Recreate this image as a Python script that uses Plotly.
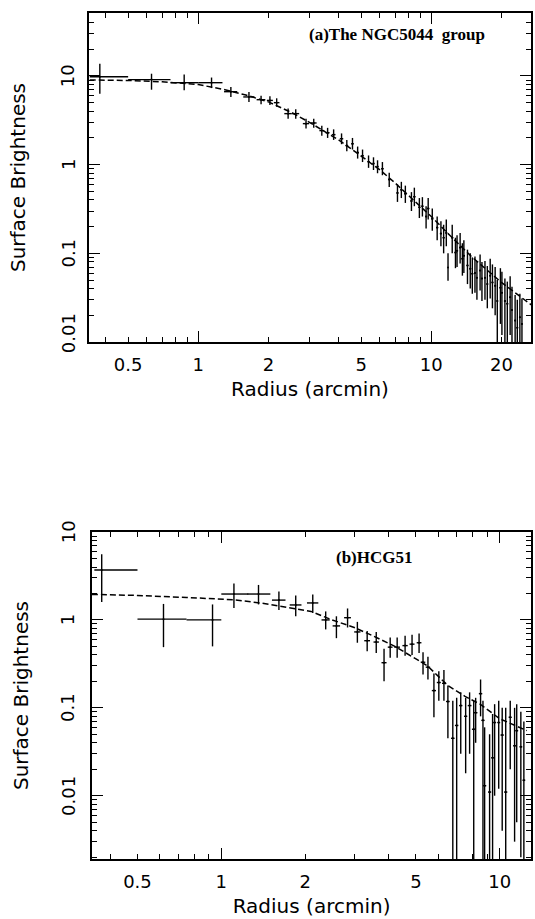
import math
import plotly.graph_objects as go

# ---------------- (a) The NGC5044 group ----------------
r_a = [0.378, 0.63, 0.87, 1.14, 1.38, 1.65, 1.86, 2.03, 2.17, 2.43,
       2.62, 2.90, 3.13, 3.39, 3.59, 3.81, 4.12, 4.34, 4.59, 4.83,
       5.07, 5.38, 5.65, 5.88, 6.17, 6.60, 7.16, 7.44, 7.74, 8.22,
       8.46, 8.89, 9.16, 9.50, 9.70, 10.1, 10.6,
       11.0, 11.3, 11.6, 11.8, 12.3, 12.7, 12.9, 13.3, 13.6, 13.8,
       14.3, 14.7, 15.0, 15.4, 15.7, 16.2, 16.5, 17.0, 17.4, 17.9,
       18.3, 18.8, 19.2, 19.8, 20.1, 20.7, 21.2, 21.8, 22.2, 22.9,
       23.4, 24.0, 24.5]
sb_a = [9.8, 9.1, 8.4, 8.4, 6.65, 5.8, 5.4, 5.3, 5.0, 3.76,
        3.76, 2.9, 2.95, 2.42, 2.29, 2.18, 1.96, 1.64, 1.72, 1.37,
        1.26, 1.08, 1.03, 0.95, 0.90, 0.68, 0.48, 0.52, 0.47, 0.39,
        0.435, 0.33, 0.34, 0.26, 0.32, 0.245, 0.195,
        0.167, 0.15, 0.17, 0.069, 0.15, 0.102, 0.107, 0.116, 0.087, 0.094,
        0.073, 0.067, 0.059, 0.06, 0.053, 0.064, 0.052, 0.053, 0.045, 0.056,
        0.047, 0.043, 0.029, 0.041, 0.036, 0.029, 0.027, 0.032, 0.023, 0.0175,
        0.0145, 0.019, 0.016]
sb_hi_a = [13.7, 10.6, 10.4, 9.6, 7.5, 6.6, 6.0, 5.9, 5.6, 4.3,
           4.2, 3.3, 3.3, 2.75, 2.6, 2.5, 2.25, 1.9, 2.0, 1.6,
           1.48, 1.27, 1.21, 1.12, 1.07, 0.81, 0.6, 0.64, 0.58, 0.49,
           0.55, 0.42, 0.43, 0.34, 0.42, 0.32, 0.26,
           0.23, 0.21, 0.24, 0.10, 0.21, 0.15, 0.16, 0.17, 0.13, 0.14,
           0.11, 0.10, 0.09, 0.092, 0.082, 0.097, 0.08, 0.082, 0.072, 0.087,
           0.075, 0.07, 0.05, 0.068, 0.062, 0.052, 0.048, 0.055, 0.042, 0.034,
           0.03, 0.035, 0.031]
sb_lo_a = [6.3, 7.0, 6.9, 7.3, 5.8, 5.1, 4.8, 4.7, 4.5, 3.3,
           3.3, 2.55, 2.6, 2.12, 2.0, 1.9, 1.7, 1.42, 1.48, 1.17,
           1.07, 0.92, 0.87, 0.8, 0.76, 0.56, 0.38, 0.42, 0.37, 0.3,
           0.34, 0.25, 0.26, 0.19, 0.24, 0.18, 0.14,
           0.12, 0.10, 0.12, 0.049, 0.10, 0.068, 0.07, 0.077, 0.056, 0.06,
           0.045, 0.04, 0.035, 0.036, 0.03, 0.038, 0.029, 0.03, 0.024, 0.031,
           0.024, 0.02, 0.0001, 0.016, 0.012, 0.0001, 0.008, 0.012, 0.0001, 0.0001,
           0.0001, 0.004, 0.0001]
rerr_lo_a = [0.036, 0.13, 0.11, 0.14, 0.09, 0.09, 0.08, 0.06, 0.06, 0.09,
             0.09, 0.09, 0.09, 0.08, 0.07, 0.07, 0.07, 0.06, 0.06, 0.06,
             0.06, 0.06, 0.06, 0.06, 0.08, 0.08, 0.08, 0.08, 0.1, 0.1,
             0.1, 0.1, 0.1, 0.1, 0.12, 0.12, 0.12,
             0.12, 0.12, 0.12, 0.0, 0.14, 0.14, 0.14, 0.14, 0.14, 0.14,
             0.15, 0.15, 0.15, 0.15, 0.15, 0.16, 0.16, 0.16, 0.16, 0.16,
             0.18, 0.18, 0.18, 0.18, 0.18, 0.2, 0.2, 0.2, 0.2, 0.2,
             0.2, 0.2, 0.2]
rerr_hi_a = [0.122, 0.13, 0.13, 0.13] + rerr_lo_a[4:]
model_r_a = [0.342, 0.5, 0.7, 1.0, 1.3, 1.6, 2.0, 2.5, 3.0, 3.5,
             4.0, 5.0, 6.0, 7.0, 8.0, 10.0, 12.0, 15.0, 20.0, 27.0]
model_sb_a = [9.0, 8.9, 8.6, 8.0, 7.0, 6.1, 5.1, 3.9, 3.0, 2.35,
              1.9, 1.25, 0.88, 0.62, 0.45, 0.26, 0.16, 0.09, 0.047, 0.026]

# ---------------- (b) HCG51 ----------------
r_b = [0.372, 0.62, 0.93, 1.11, 1.36, 1.61, 1.85, 2.13, 2.37, 2.59,
       2.84, 3.08, 3.34, 3.60, 3.84, 4.04, 4.28, 4.57, 4.84, 5.13,
       5.30, 5.52, 5.80, 6.04, 6.30, 6.51, 6.78, 7.00, 7.24, 7.54,
       7.79, 8.06, 8.19, 8.53, 8.70, 8.82, 9.19, 9.42, 9.58, 9.91,
       10.2, 10.5, 10.9, 11.3, 11.5, 11.9, 12.2]
sb_b = [3.7, 1.02, 1.0, 1.97, 1.97, 1.68, 1.48, 1.56, 1.0, 0.855,
        1.06, 0.73, 0.58, 0.56, 0.326, 0.49, 0.49, 0.51, 0.53, 0.55,
        0.33, 0.29, 0.157, 0.194, 0.19, 0.118, 0.045, 0.063, 0.106, 0.08,
        0.106, 0.057, 0.088, 0.145, 0.072, 0.013, 0.011, 0.027, 0.068, 0.068,
        0.049, 0.011, 0.078, 0.037, 0.055, 0.036, 0.015]
sb_hi_b = [5.6, 1.52, 1.5, 2.6, 2.5, 2.1, 1.9, 1.95, 1.25, 1.1,
           1.35, 0.95, 0.75, 0.73, 0.47, 0.63, 0.63, 0.66, 0.68, 0.7,
           0.43, 0.38, 0.245, 0.26, 0.27, 0.18, 0.12, 0.13, 0.15, 0.13,
           0.15, 0.12, 0.13, 0.21, 0.12, 0.06, 0.05, 0.085, 0.11, 0.12,
           0.1, 0.1, 0.12, 0.1, 0.11, 0.09, 0.07]
sb_lo_b = [1.6, 0.49, 0.5, 1.37, 1.5, 1.3, 1.1, 1.2, 0.78, 0.62,
           0.82, 0.55, 0.44, 0.42, 0.2, 0.37, 0.37, 0.39, 0.4, 0.42,
           0.24, 0.21, 0.078, 0.12, 0.12, 0.045, 0.0001, 0.0001, 0.03, 0.018,
           0.03, 0.0001, 0.04, 0.08, 0.0001, 0.0001, 0.0001, 0.0001, 0.01, 0.012,
           0.004, 0.0001, 0.02, 0.003, 0.005, 0.002, 0.0001]
rerr_lo_b = [0.022, 0.12, 0.18, 0.11, 0.12, 0.09, 0.09, 0.1, 0.08, 0.08,
             0.08, 0.08, 0.08, 0.08, 0.08, 0.08, 0.1, 0.1, 0.1, 0.1,
             0.1, 0.1, 0.1, 0.1, 0.1, 0.1, 0.1, 0.1, 0.1, 0.1,
             0.12, 0.12, 0.12, 0.12, 0.12, 0.12, 0.12, 0.12, 0.12, 0.12,
             0.14, 0.14, 0.14, 0.14, 0.14, 0.14, 0.14]
rerr_hi_b = [0.128, 0.13, 0.07, 0.14, 0.14] + rerr_lo_b[5:]
model_r_b = [0.343, 0.5, 0.75, 1.0, 1.1, 1.4, 1.8, 2.1, 2.5, 3.0,
             3.5, 4.2, 5.0, 5.5, 6.5, 7.5, 8.5, 10.0, 12.5]
model_sb_b = [1.95, 1.9, 1.8, 1.75, 1.7, 1.55, 1.35, 1.25, 1.0, 0.82,
              0.66, 0.5, 0.36, 0.3, 0.18, 0.135, 0.11, 0.075, 0.055]

# tick labels
xticks_a = [0.5, 1, 2, 5, 10, 20]
xticks_b = [0.5, 1, 2, 5, 10]
xlong = [1, 10]
xminor_a = [0.4, 0.6, 0.7, 0.8, 0.9, 3, 4, 6, 7, 8, 9, 30]
xminor_b = [0.4, 0.6, 0.7, 0.8, 0.9, 3, 4, 6, 7, 8, 9]
yticks = [0.01, 0.1, 1, 10]
ytick_text = ["0.01", "0.1", "1", "10"]
yminor = [m * d for d in [0.001, 0.01, 0.1, 1, 10] for m in range(2, 10)]

FONT = "DejaVu Sans"
fig = go.Figure()


def add_panel(r, sb, hi, lo, rlo, rhi, mr, msb, xa, ya):
    fig.add_trace(go.Scatter(
        x=mr, y=msb, mode="lines", xaxis=xa, yaxis=ya, showlegend=False,
        line=dict(color="black", width=1.5, dash="6px,3px"), hoverinfo="skip"))
    fig.add_trace(go.Scatter(
        x=r, y=sb, mode="markers", xaxis=xa, yaxis=ya, showlegend=False,
        marker=dict(size=2, color="black"),
        error_y=dict(type="data", symmetric=False,
                     array=[h - s for h, s in zip(hi, sb)],
                     arrayminus=[s - l for s, l in zip(sb, lo)],
                     width=0, thickness=1.4, color="black"),
        error_x=dict(type="data", symmetric=False, array=rhi, arrayminus=rlo,
                     width=0, thickness=1.4, color="black")))


add_panel(r_a, sb_a, sb_hi_a, sb_lo_a, rerr_lo_a, rerr_hi_a,
          model_r_a, model_sb_a, "x", "y")
add_panel(r_b, sb_b, sb_hi_b, sb_lo_b, rerr_lo_b, rerr_hi_b,
          model_r_b, model_sb_b, "x2", "y2")
# empty traces so that the overlay axes (long ticks / minor ticks) are drawn
fig.add_trace(go.Scatter(x=[], y=[], xaxis="x3", yaxis="y", showlegend=False))
fig.add_trace(go.Scatter(x=[], y=[], xaxis="x4", yaxis="y2", showlegend=False))
fig.add_trace(go.Scatter(x=[], y=[], xaxis="x", yaxis="y3", showlegend=False))
fig.add_trace(go.Scatter(x=[], y=[], xaxis="x2", yaxis="y4", showlegend=False))

tickfont = dict(family=FONT, size=18, color="black")
titlefont = dict(family=FONT, size=20, color="black")


def xaxis(domain, anchor, rng, ticks, minor):
    return dict(type="log", domain=domain, anchor=anchor, range=rng,
                tickmode="array", tickvals=ticks, ticktext=[str(t) for t in ticks],
                ticks="inside", ticklen=5, tickwidth=1.3, tickcolor="black",
                showline=True, linecolor="black", linewidth=1.6, mirror="ticks",
                showgrid=False, zeroline=False, tickfont=tickfont,
                ticklabelstandoff=6,
                minor=dict(tickmode="array", tickvals=minor, ticks="inside",
                           ticklen=5, tickwidth=1.3, tickcolor="black", showgrid=False),
                title=dict(text="Radius (arcmin)", font=titlefont, standoff=8))


def xlongaxis(over, anchor, rng):
    return dict(type="log", overlaying=over, anchor=anchor, range=rng, side="bottom",
                tickmode="array", tickvals=xlong, ticks="inside", ticklen=11,
                tickwidth=1.3, tickcolor="black", showticklabels=False,
                showline=True, linecolor="black", linewidth=1.6, mirror="ticks",
                showgrid=False, zeroline=False)


def yaxis(domain, anchor, rng):
    # labels of these ticks are drawn rotated (see annotations below)
    return dict(type="log", domain=domain, anchor=anchor, range=rng,
                tickmode="array", tickvals=yticks, showticklabels=False,
                ticks="inside", ticklen=11, tickwidth=1.3,
                tickcolor="black", showline=True, linecolor="black", linewidth=1.6,
                mirror="ticks", showgrid=False, zeroline=False,
                title=dict(text="Surface Brightness", font=titlefont, standoff=56))


def yminoraxis(over, anchor, rng):
    return dict(type="log", overlaying=over, anchor=anchor, range=rng, side="left",
                tickmode="array", tickvals=yminor, ticks="inside", ticklen=5,
                tickwidth=1.3, tickcolor="black", showticklabels=False,
                showline=True, linecolor="black", linewidth=1.6, mirror="ticks",
                showgrid=False, zeroline=False)


def ylabels(yref, shift_bottom):
    anns = []
    for v, t in zip(yticks, ytick_text):
        anns.append(dict(text=t, xref="paper", yref=yref, x=-0.047, y=math.log10(v),
                         xanchor="center", yanchor="middle", textangle=-90,
                         showarrow=False, font=tickfont,
                         yshift=shift_bottom if v == yticks[0] else 0))
    return anns


rx_a = [-0.469, 1.428]
rx_b = [-0.464, 1.112]
ry_a = [-2, 1.71]
ry_b = [-2.72, 1.0]
fig.update_layout(
    width=535, height=919, autosize=False,
    margin=dict(l=89, r=2, t=13, b=60),
    paper_bgcolor="white", plot_bgcolor="white",
    font=dict(family=FONT, color="black"),
    xaxis=xaxis([0, 1], "y", rx_a, xticks_a, xminor_a),
    xaxis2=xaxis([0.007, 1], "y2", rx_b, xticks_b, xminor_b),
    xaxis3=xlongaxis("x", "y", rx_a),
    xaxis4=xlongaxis("x2", "y2", rx_b),
    yaxis=yaxis([0.6111, 1], "x", ry_a),
    yaxis2=yaxis([0, 0.3865], "x2", ry_b),
    yaxis3=yminoraxis("y", "x", ry_a),
    yaxis4=yminoraxis("y2", "x2", ry_b),
    annotations=ylabels("y", 9) + ylabels("y2", 0) + [
        dict(text="<b>(a)The NGC5044  group</b>", xref="x domain", yref="y domain",
             x=0.493, y=0.935, xanchor="left", yanchor="middle", showarrow=False,
             font=dict(family="Liberation Serif", size=17, color="black")),
        dict(text="<b>(b)HCG51</b>", xref="x2 domain", yref="y2 domain",
             x=0.552, y=0.923, xanchor="left", yanchor="middle", showarrow=False,
             font=dict(family="Liberation Serif", size=17, color="black")),
    ],
)

fig.write_html("out.html")
